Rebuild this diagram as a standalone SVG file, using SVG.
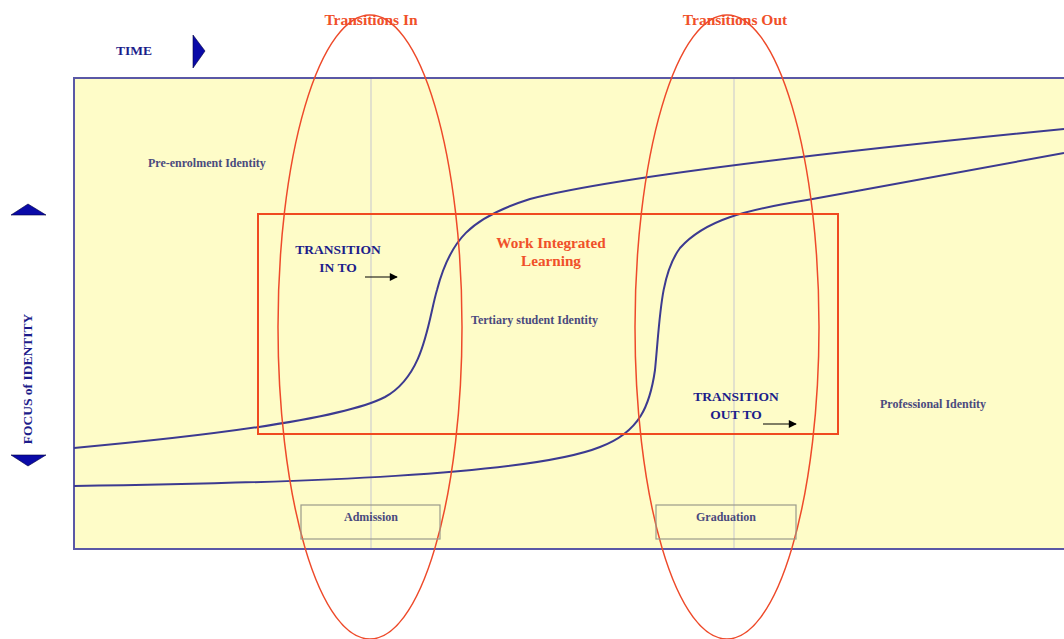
<svg xmlns="http://www.w3.org/2000/svg" width="1064" height="639" viewBox="0 0 1064 639">
<defs>
<style>
.serif{font-family:"Liberation Serif","DejaVu Serif",serif;font-weight:bold}
.small{font-size:12px;fill:#4a4a7e}
.navy{font-size:13.5px;fill:#1c1c8a}
.red{fill:#f0502a}
.curve{fill:none;stroke:#3c3a90;stroke-width:2}
.ell{fill:none;stroke:#ee4a2a;stroke-width:1.5}
.grid{stroke:#cfcfcf;stroke-width:1.2}
.box{fill:none;stroke:#9a9a8a;stroke-width:1.2}
.tri{fill:#0a0aa8;stroke:#000040;stroke-width:0.6}
</style>
<marker id="ah" viewBox="0 0 10 10" refX="9" refY="5" markerWidth="10" markerHeight="8" markerUnits="userSpaceOnUse" orient="auto">
<path d="M0,0 L10,5 L0,10 z" fill="#000"/>
</marker>
</defs>

<g id="background">
<rect x="74" y="78" width="1000" height="471" fill="#fefcc8" stroke="#5a58a6" stroke-width="2"/>
<line class="grid" x1="371" y1="79" x2="371" y2="548"/>
<line class="grid" x1="734" y1="79" x2="734" y2="548"/>
</g>

<g id="connectors">
<path id="curve-upper" class="curve" d="M74,448 C250,432 350,415 385,397 C425,375 428,320 437,290 C450,240 470,218 530,199 C620,176 850,150 1064,129"/>
<path id="curve-lower" class="curve" d="M74,486 C300,483 530,475 600,447 C640,432 650,405 655,370 C660,320 660,275 680,248 C705,220 745,210 807,200 C900,183 1000,165 1064,153"/>
<line x1="365" y1="277" x2="397" y2="277" stroke="#000" stroke-width="1" marker-end="url(#ah)"/>
<line x1="763" y1="424" x2="796" y2="424" stroke="#000" stroke-width="1" marker-end="url(#ah)"/>
</g>

<g id="wil">
<rect x="258" y="214" width="580" height="220" fill="none" stroke="#f04a20" stroke-width="2"/>
<text class="serif red" x="551" y="248" font-size="15.2" text-anchor="middle">Work Integrated</text>
<text class="serif red" x="551" y="266" font-size="15.2" text-anchor="middle">Learning</text>
</g>

<g id="transitions-in">
<text class="serif red" x="371" y="25" font-size="15.5" text-anchor="middle">Transitions In</text>
<ellipse class="ell" cx="370" cy="327" rx="92" ry="312"/>
</g>

<g id="transitions-out">
<text class="serif red" x="735" y="25" font-size="15.5" text-anchor="middle">Transitions Out</text>
<ellipse class="ell" cx="727" cy="327" rx="92" ry="312"/>
</g>

<g id="admission">
<rect class="box" x="301" y="505" width="139" height="34"/>
<text class="serif small" x="371" y="521" text-anchor="middle">Admission</text>
</g>

<g id="graduation">
<rect class="box" x="656" y="505" width="140" height="34"/>
<text class="serif small" x="726" y="521" text-anchor="middle">Graduation</text>
</g>

<g id="time-axis">
<text class="serif navy" x="116" y="55">TIME</text>
<polygon class="tri" points="193,35 205,51 193,68"/>
</g>

<g id="identity-axis">
<polygon class="tri" points="11,215 28,204 46,215"/>
<polygon class="tri" points="11,455 46,455 28,466"/>
<text class="serif navy" transform="translate(32,379) rotate(-90)" text-anchor="middle">FOCUS of IDENTITY</text>
</g>

<g id="pre-enrolment">
<text class="serif small" x="148" y="167">Pre-enrolment Identity</text>
</g>

<g id="transition-in-to">
<text class="serif navy" x="338" y="254" text-anchor="middle">TRANSITION</text>
<text class="serif navy" x="338" y="272" text-anchor="middle">IN TO</text>
</g>

<g id="tertiary">
<text class="serif small" x="471" y="324">Tertiary student Identity</text>
</g>

<g id="transition-out-to">
<text class="serif navy" x="736" y="401" text-anchor="middle">TRANSITION</text>
<text class="serif navy" x="736" y="419" text-anchor="middle">OUT TO</text>
</g>

<g id="professional">
<text class="serif small" x="880" y="408">Professional Identity</text>
</g>
</svg>
